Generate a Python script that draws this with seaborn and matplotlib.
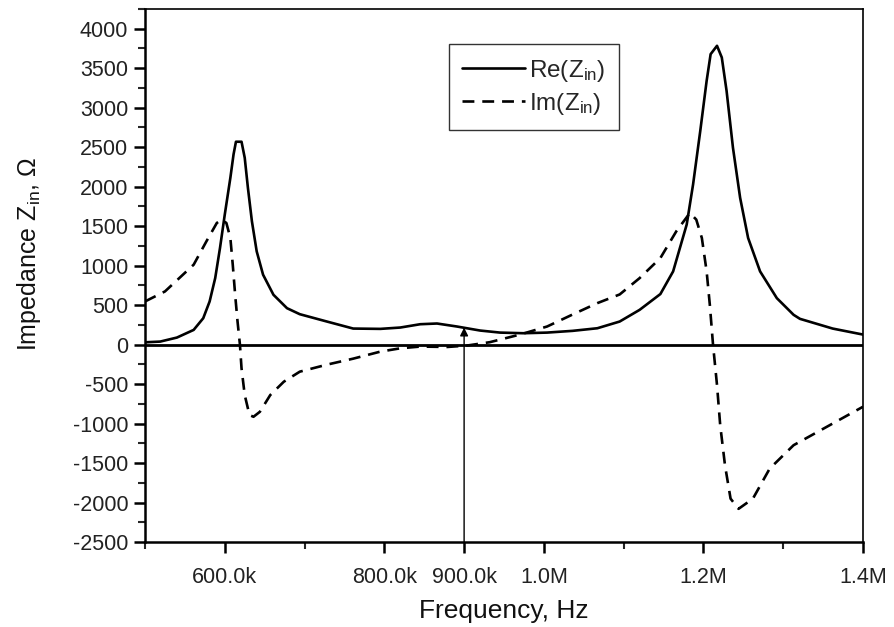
import numpy as np
import pandas as pd
import matplotlib
matplotlib.use("Agg")
import matplotlib.pyplot as plt
import seaborn as sns

# ---- data (frequency in kHz, impedance in Ohm) ----
re_freq_k = [500, 519, 540, 561, 573, 581, 588, 594, 600, 607, 611, 614, 621, 625, 629, 634,
             640, 648, 661, 678, 694, 728, 761, 795, 820, 845, 866, 891, 920, 945, 974,
             1004, 1036, 1067, 1095, 1120, 1146, 1162, 1179, 1187, 1196, 1204, 1209, 1217,
             1223, 1229, 1237, 1246, 1256, 1271, 1292, 1313, 1321, 1362, 1400]
re_vals = [29, 38, 89, 186, 334, 546, 842, 1223, 1647, 2112, 2409, 2569, 2569, 2366, 1985, 1562,
           1181, 885, 631, 461, 385, 292, 203, 199, 216, 258, 267, 229, 178, 152, 144,
           152, 174, 207, 292, 440, 640, 927, 1520, 2028, 2705, 3340, 3678, 3784,
           3636, 3213, 2493, 1858, 1350, 927, 588, 377, 326, 203, 127]

im_freq_k = [500, 525, 561, 577, 590, 596, 602, 607, 610, 613, 616, 619, 621, 625, 631, 636,
             644, 657, 674, 694, 728, 761, 795, 820, 845, 879, 903, 932, 970, 1004, 1036,
             1067, 1095, 1120, 1146, 1166, 1183, 1191, 1198, 1204, 1208, 1212, 1217, 1221,
             1227, 1234, 1244, 1262, 1283, 1313, 1350, 1400]
im_vals = [546, 673, 1012, 1308, 1540, 1583, 1540, 1350, 1012, 631, 292, 0, -301, -639, -893, -914,
           -851, -639, -470, -343, -254, -178, -89, -47, -25, -30, -13, 30, 127, 229, 381,
           525, 635, 842, 1096, 1435, 1667, 1583, 1350, 927, 504, 0, -512, -1020,
           -1528, -1951, -2080, -1951, -1571, -1274, -1067, -787]

xtick_pos_k = [600, 800, 900, 1000, 1200, 1400]
xtick_labels = ["600.0k", "800.0k", "900.0k", "1.0M", "1.2M", "1.4M"]
xminor_k = [500, 700, 1100, 1300]
arrow_freq_k = 900
arrow_top = 215

df_re = pd.DataFrame({"f": np.array(re_freq_k) * 1e3, "z": re_vals})
df_im = pd.DataFrame({"f": np.array(im_freq_k) * 1e3, "z": im_vals})

sns.set_style("ticks")
plt.rcParams["font.family"] = ["Liberation Sans", "DejaVu Sans"]
plt.rcParams["mathtext.fontset"] = "custom"
plt.rcParams["mathtext.rm"] = "Liberation Sans"
plt.rcParams["mathtext.it"] = "Liberation Sans"
plt.rcParams["axes.unicode_minus"] = False

fig = plt.figure(figsize=(8.94, 6.27), dpi=100)
ax = fig.add_axes([145 / 894, 1 - 542 / 627, (863 - 145) / 894, (542 - 9) / 627])

sns.lineplot(data=df_re, x="f", y="z", ax=ax, color="black", lw=1.9,
             label=r"Re(Z$_\mathregular{in}$)", sort=False)
sns.lineplot(data=df_im, x="f", y="z", ax=ax, color="black", lw=1.9,
             linestyle=(0, (4.5, 3.0)), label=r"Im(Z$_\mathregular{in}$)", sort=False)

ax.axhline(0, color="black", lw=2.0, zorder=1)
ax.annotate("", xy=(arrow_freq_k * 1e3, arrow_top), xytext=(arrow_freq_k * 1e3, -2500),
            arrowprops=dict(arrowstyle="-|>", lw=1.0, color="black",
                            mutation_scale=12, shrinkA=0, shrinkB=0))

ax.set_xlim(500e3, 1400e3)
ax.set_ylim(-2500, 4250)
ax.set_xticks(np.array(xtick_pos_k) * 1e3)
ax.set_xticklabels(xtick_labels)
ax.set_xticks(np.array(xminor_k) * 1e3, minor=True)
ax.set_yticks(np.arange(-2500, 4001, 500))
ax.set_yticks(np.arange(-2500, 4251, 250), minor=True)

ax.tick_params(axis="both", which="major", direction="out", length=8, width=1.8,
               labelsize=15.5, colors="black", labelcolor="#222222", top=False, right=False)
ax.tick_params(axis="both", which="minor", direction="out", length=5, width=1.5,
               top=False, right=False)
ax.tick_params(axis="x", which="major", pad=10)
ax.tick_params(axis="y", which="major", pad=4)

for side in ["left", "bottom"]:
    ax.spines[side].set_linewidth(1.8)
for side in ["top", "right"]:
    ax.spines[side].set_linewidth(1.2)
    ax.spines[side].set_visible(True)
for s in ax.spines.values():
    s.set_color("black")

ax.set_xlabel("Frequency, Hz", fontsize=19, labelpad=8, color="#111111")
ax.set_ylabel(r"Impedance Z$_\mathregular{in}$, Ω", fontsize=18, color="#111111")
ax.yaxis.set_label_coords(-0.142, 0.54)

leg = ax.legend(loc="upper left", bbox_to_anchor=(0.423, 0.934), fontsize=17.5,
                frameon=True, fancybox=False, handlelength=2.6, handletextpad=0.15,
                borderpad=0.55, labelspacing=0.3, borderaxespad=0)
leg.get_frame().set_edgecolor("black")
leg.get_frame().set_linewidth(1.0)

fig.savefig("out.png", dpi=100)
